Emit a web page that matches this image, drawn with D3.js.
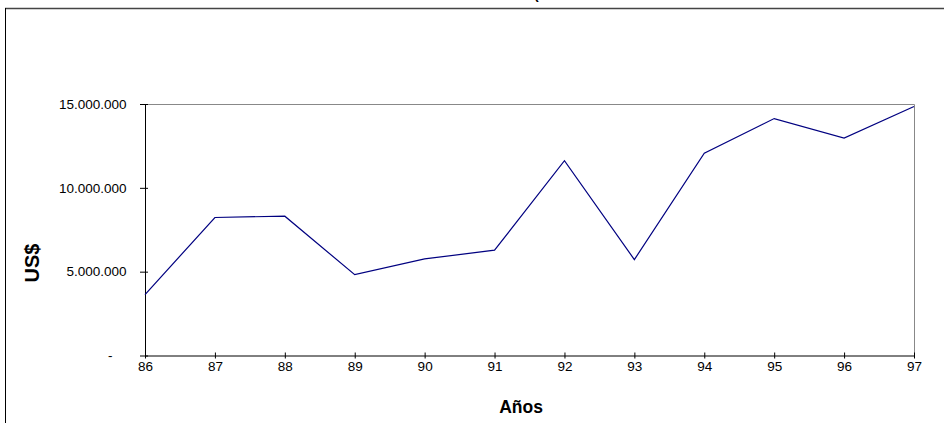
<!DOCTYPE html>
<html>
<head>
<meta charset="utf-8">
<script src="https://cdn.jsdelivr.net/npm/d3@7"></script>
<style>
  html, body { margin: 0; padding: 0; background: #fff; }
  svg { display: block; }
  text { font-family: "Liberation Sans", Arial, sans-serif; fill: #000; }
</style>
</head>
<body>
<svg id="chart" width="944" height="423"></svg>
<script>
// Yearly amounts in US$, 1986–1997
const years = ["86", "87", "88", "89", "90", "91", "92", "93", "94", "95", "96", "97"];
const amounts = [3630000, 8230000, 8310000, 4820000, 5760000, 6280000, 11620000, 5720000, 12060000, 14130000, 12970000, 14850000];
const yTicks = [0, 5000000, 10000000, 15000000];
const yTickLabels = ["-", "5.000.000", "10.000.000", "15.000.000"];

const svg = d3.select("#chart");
const plot = { left: 145, right: 914, top: 104, bottom: 355.5 };

const x = d3.scalePoint().domain(years).range([plot.left, plot.right]);
const y = d3.scaleLinear().domain([0, 15000000]).range([plot.bottom, plot.top]);

// Outer frame of the chart (extends past the visible area)
svg.append("line").attr("x1", 5).attr("x2", 960).attr("y1", 8.5).attr("y2", 8.5)
  .attr("stroke", "#444").attr("stroke-width", 1.5);
svg.append("line").attr("x1", 5.5).attr("x2", 5.5).attr("y1", 8).attr("y2", 440)
  .attr("stroke", "#000").attr("stroke-width", 1);

// Title, mostly above the visible area
svg.append("text").attr("x", 534).attr("y", -1)
  .attr("font-size", 14).attr("font-weight", "bold").text("(");

// Plot area border (top and right in grey)
svg.append("path")
  .attr("d", `M${plot.left},${plot.top + 0.5}H${plot.right + 0.5}V${plot.bottom}`)
  .attr("fill", "none").attr("stroke", "#888").attr("stroke-width", 1);

// Y axis
const yAxis = d3.axisLeft(y).tickValues(yTicks)
  .tickFormat((d, i) => yTickLabels[i]).tickSize(0).tickPadding(18.5);
const gy = svg.append("g").attr("transform", `translate(${plot.left},0)`).call(yAxis);
gy.select(".domain").attr("stroke", "#000");
gy.selectAll(".tick text").attr("font-size", 13.5).attr("font-family", "Liberation Sans, Arial, sans-serif")
  .attr("dx", d => d === 0 ? -14 : 0);
gy.selectAll(".tick").append("line").attr("x1", -5).attr("x2", 3).attr("stroke", "#000");

// X axis
const xAxis = d3.axisBottom(x).tickSize(0).tickPadding(6);
const gx = svg.append("g").attr("transform", `translate(0,${plot.bottom})`).call(xAxis);
gx.select(".domain").attr("stroke", "#000");
gx.selectAll(".tick text").attr("font-size", 13.5).attr("font-family", "Liberation Sans, Arial, sans-serif");
gx.selectAll(".tick").append("line").attr("y1", -3).attr("y2", 3).attr("stroke", "#000");

// Series line
const line = d3.line().x((d, i) => x(years[i])).y(d => y(d));
svg.append("path").datum(amounts)
  .attr("d", line)
  .attr("fill", "none").attr("stroke", "#000080").attr("stroke-width", 1.2);

// Axis titles
svg.append("text").attr("x", 521).attr("y", 413).attr("text-anchor", "middle")
  .attr("font-size", 17.5).attr("font-weight", "bold").text("Años");
svg.append("text").attr("transform", "translate(39,263) rotate(-90)")
  .attr("text-anchor", "middle").attr("font-size", 20).attr("font-weight", "bold").text("US$");
</script>
</body>
</html>
